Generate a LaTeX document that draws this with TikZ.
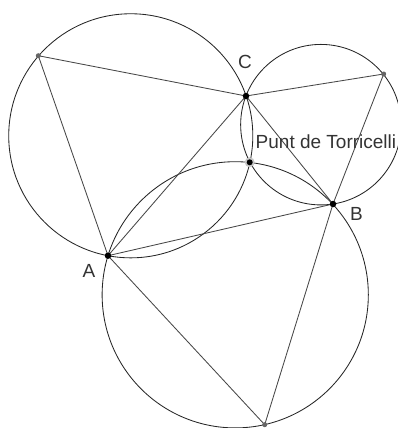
\documentclass[tikz,border=0pt]{standalone}
\usepackage{fontspec}
\setmainfont{Liberation Sans}
\usetikzlibrary{calc}
\begin{document}
\begin{tikzpicture}[x=1pt,y=-1pt,
  seg/.style={draw=black!72,line width=0.85pt},
  circ/.style={draw=black!85,line width=0.85pt},
  mainpt/.style={circle,fill=black,inner sep=0pt,minimum size=6.5pt},
  auxpt/.style={circle,fill=black!60,inner sep=0pt,minimum size=5pt},
  lbl/.style={text=black!80,font=\fontsize{19}{21}\selectfont,inner sep=0pt}]
\useasboundingbox (0,0) rectangle (398,428);
\coordinate (A) at (108,255.7);
\coordinate (B) at (333,204);
\coordinate (C) at (246,96);
\coordinate (P1) at (38.3,55.7);
\coordinate (P2) at (383.7,74);
\coordinate (P3) at (264.7,424.7);
\coordinate (T) at (249.7,162.3);
\coordinate (O1) at ($1/3*(A)+1/3*(C)+1/3*(P1)$);
\coordinate (O2) at ($1/3*(B)+1/3*(C)+1/3*(P2)$);
\coordinate (O3) at ($1/3*(A)+1/3*(B)+1/3*(P3)$);
% circles
\draw[circ] let \p1=($(A)-(O1)$), \n1={veclen(\x1,\y1)} in (O1) circle (\n1);
\draw[circ] let \p1=($(B)-(O2)$), \n1={veclen(\x1,\y1)} in (O2) circle (\n1);
\draw[circ] let \p1=($(A)-(O3)$), \n1={veclen(\x1,\y1)} in (O3) circle (\n1);
% segments
\draw[seg] (A) -- (P1) -- (C) -- cycle;
\draw[seg] (C) -- (P2) -- (B) -- cycle;
\draw[seg] (A) -- (P3) -- (B) -- cycle;
% points
\fill[black!22] (T) circle (5pt);
\node[mainpt,minimum size=6pt] (t) at (T) {};
\node[mainpt] (a) at (A) {};
\node[mainpt] (b) at (B) {};
\node[mainpt] (c) at (C) {};
\node[auxpt] (p1) at (P1) {};
\node[auxpt] (p2) at (P2) {};
\node[auxpt] (p3) at (P3) {};
% labels
\node[lbl] (la) at (89,271) {A};
\node[lbl] (lb) at (356.5,214) {B};
\node[lbl] (lc) at (245,62) {C};
\node[lbl,anchor=base west] (lt) at (255.5,148.5) {Punt de Torricelli};
\end{tikzpicture}
\end{document}
